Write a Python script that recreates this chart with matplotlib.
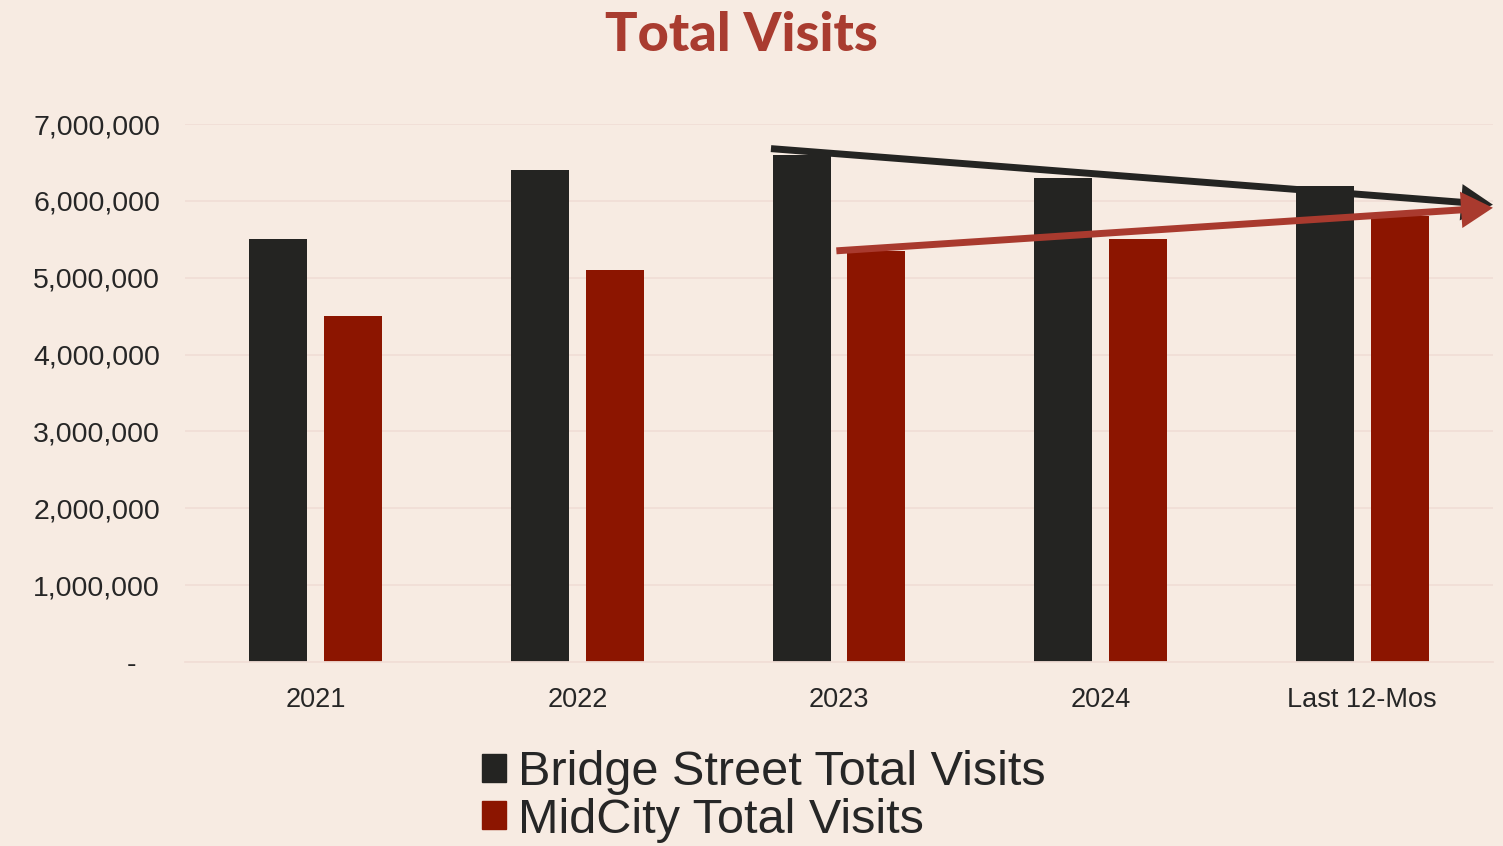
import numpy as np
import matplotlib.pyplot as plt
from matplotlib.patches import Patch

# data
categories = ['2021', '2022', '2023', '2024', 'Last 12-Mos']
bridge_visits = [5500000, 6400000, 6600000, 6300000, 6200000]
midcity_visits = [4500000, 5100000, 5350000, 5500000, 5800000]

# trend arrows (category units, visits)
bridge_trend_x = [1.74, 4.50]
bridge_trend_y = [6680000, 5950000]
midcity_trend_x = [1.99, 4.50]
midcity_trend_y = [5350000, 5910000]

BG = '#F7EBE2'
DARK = '#242422'
RED = '#8C1500'
ARROW_RED = '#A93A2E'
TITLE_RED = '#A93C30'
GRID = '#F1DED6'

plt.rcParams['font.family'] = ['Liberation Sans', 'DejaVu Sans']

fig = plt.figure(figsize=(15.03, 8.46), dpi=100, facecolor=BG)
ax = fig.add_axes([0.1231, 0.2175, 0.8702, 0.6359], facecolor=BG)

x = np.arange(len(categories))
bw = 0.222
off = 0.143
ax.bar(x - off, bridge_visits, bw, color=DARK, label='Bridge Street Total Visits', zorder=2)
ax.bar(x + off, midcity_visits, bw, color=RED, label='MidCity Total Visits', zorder=2)

ax.set_xlim(-0.5, len(categories) - 0.5)
ax.set_ylim(0, 7000000)
ax.set_yticks(np.arange(0, 7000001, 1000000))
# accounting style: the zero shows as a dash, set in from the right edge
ax.set_yticklabels(['-   '] + [f'{v:,}' for v in range(1000000, 7000001, 1000000)])
ax.set_xticks(x)
ax.set_xticklabels(categories)
ax.tick_params(axis='both', length=0, colors='#262626')
ax.tick_params(axis='y', pad=18, labelsize=20.5)
ax.tick_params(axis='x', pad=18, labelsize=19.5)
ax.grid(axis='y', color=GRID, linewidth=1.3, zorder=0)
ax.set_axisbelow(True)
for s in ['left', 'right', 'top']:
    ax.spines[s].set_visible(False)
ax.spines['bottom'].set_color(GRID)
ax.spines['bottom'].set_linewidth(1.3)

# trend arrows
for tx, ty, col in [(bridge_trend_x, bridge_trend_y, DARK),
                    (midcity_trend_x, midcity_trend_y, ARROW_RED)]:
    ax.annotate('', xy=(tx[1], ty[1]), xytext=(tx[0], ty[0]),
                arrowprops=dict(arrowstyle='-|>,head_length=0.7,head_width=0.4',
                                color=col, lw=5, mutation_scale=22,
                                shrinkA=0, shrinkB=0, capstyle='butt',
                                joinstyle='miter'),
                annotation_clip=False, zorder=3)

fig.text(0.493, 0.958, 'Total Visits', ha='center', va='center',
         fontsize=39, fontweight='black', color=TITLE_RED, family=['Lato', 'DejaVu Sans'])

handles = [Patch(color=DARK), Patch(color=RED)]
fig.legend(handles, ['Bridge Street Total Visits', 'MidCity Total Visits'],
           loc='upper left', bbox_to_anchor=(0.3045, 0.142), frameon=False,
           fontsize=35, handlelength=0.5, handleheight=0.5, handletextpad=0.25,
           labelspacing=0.05, borderpad=0, labelcolor='#262626')

fig.savefig('out.png', dpi=100, facecolor=BG)
